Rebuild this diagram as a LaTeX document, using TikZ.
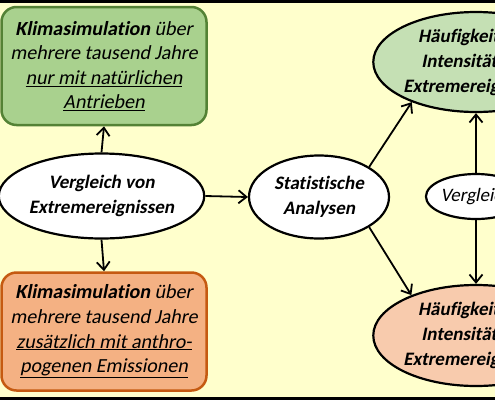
\documentclass[tikz,border=0pt]{standalone}
\usepackage{fontspec}
\setmainfont{Carlito}[Ligatures=NoCommon]
\newfontfamily\fbi{Carlito Bold}[Ligatures=NoCommon, FakeSlant=0.2]
\font\citf="Carlito:-liga;slant=0.2" at 20pt
\font\citfs="Carlito:-liga;slant=0.2" at 19pt
\usetikzlibrary{shapes.geometric,arrows.meta}
\definecolor{bgyellow}{HTML}{FFFFCC}
\definecolor{boxgreen}{HTML}{A9D18E}
\definecolor{boxgreenline}{HTML}{548235}
\definecolor{ellgreen}{HTML}{C5E0B4}
\definecolor{boxorange}{HTML}{F4B183}
\definecolor{boxorangeline}{HTML}{C55A11}
\definecolor{ellorange}{HTML}{F8CBAD}
\tikzset{
  simbox/.style={rectangle, rounded corners=15pt, line width=2.5pt, minimum width=205pt, inner sep=0pt, align=center, font=\fontsize{20}{24.6}\selectfont\citf},
  ell/.style={ellipse, draw=black, line width=2.2pt, inner sep=0pt, align=center, font=\fontsize{19}{25}\selectfont\fbi},
  arr/.style={line width=1.8pt, -{Straight Barb[length=8pt,width=13pt,line width=1.8pt]}},
}
\begin{document}
\begin{tikzpicture}[x=1pt,y=-1pt]
\useasboundingbox (0,0) rectangle (495,400);
\clip (0,0) rectangle (495,400);
\fill[bgyellow] (0,0) rectangle (495,400);
\fill[black] (0,0) rectangle (495,2.5);
\fill[black] (0,397) rectangle (495,400);
% boxes
\node[simbox, fill=boxgreen, draw=boxgreenline, minimum height=118pt] (green) at (104,66)
  {{\fontsize{20}{24.6}\fbi Klimasimulation} über\\ mehrere tausend Jahre\\ \underline{nur mit natürlichen}\\ \underline{Antrieben}};
\node[simbox, fill=boxorange, draw=boxorangeline, minimum height=118pt] (orange) at (104,331.5)
  {{\fontsize{20}{24.6}\fbi Klimasimulation} über\\ mehrere tausend Jahre\\ \underline{zusätzlich mit anthro-}\\ \underline{pogenen Emissionen}};
% ellipses
\node[ell, fill=white, minimum width=187pt, minimum height=85pt] (vgl) at (101.5,196) {Vergleich von\\ Extremereignissen};
\node[ell, fill=white, minimum width=140pt, minimum height=83pt] (stat) at (319,197) {Statistische\\ Analysen};
\node[ell, fill=ellgreen, minimum width=184pt, minimum height=100pt] (hg) at (476,62) {Häufigkeit und\\ Intensität von\\ Extremereignissen};
\node[ell, fill=ellorange, minimum width=184pt, minimum height=101pt] (ho) at (476,335.5) {Häufigkeit und\\ Intensität von\\ Extremereignissen};
\node[ell, fill=white, minimum width=96pt, minimum height=45pt, font=\fontsize{19}{25}\selectfont\citfs] (vgl2) at (476,196.5) {Vergleich};
% arrows
\draw[arr] (vgl.north) -- (green.south);
\draw[arr] (vgl.south) -- (orange.north);
\draw[arr] (vgl.east) -- (stat.west);
\draw[arr] (stat.31) -- (hg.212);
\draw[arr] (stat.-31) -- (ho.148);
\draw[arr] (vgl2.north) -- (hg.south);
\draw[arr] (vgl2.south) -- (ho.north);
\end{tikzpicture}
\end{document}
